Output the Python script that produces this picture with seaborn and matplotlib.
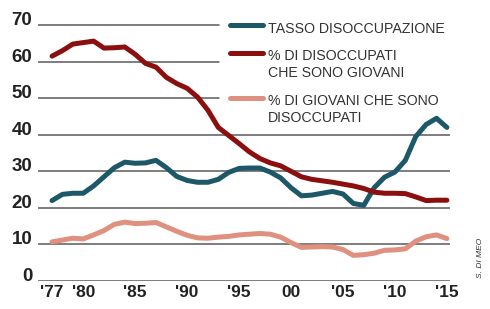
import matplotlib
matplotlib.use("Agg")
import matplotlib.pyplot as plt
import seaborn as sns
import pandas as pd
from matplotlib.lines import Line2D

# Dati
anni = list(range(1977, 2016))
tasso_disoccupazione = [22, 23.7, 24, 24, 26, 28.5, 31, 32.5, 32.2, 32.3,
                        33, 31, 28.6, 27.5, 27, 27, 27.8, 29.7, 30.8, 30.9,
                        30.9, 29.8, 28.2, 25.5, 23.3, 23.5, 24, 24.5, 23.8, 21.2,
                        20.7, 25.5, 28.4, 29.8, 33, 39.5, 42.8, 44.5, 42]
disoccupati_giovani = [61.5, 63, 64.8, 65.2, 65.6, 63.7, 63.8, 64, 62, 59.5,
                       58.5, 55.7, 54, 52.7, 50.3, 46.7, 42, 39.8, 37.6, 35.3,
                       33.5, 32.3, 31.5, 30, 28.5, 27.8, 27.4, 27, 26.5, 26,
                       25.3, 24.3, 24, 24, 23.9, 23, 22, 22.1, 22.1]
giovani_disoccupati = [10.7, 11.2, 11.7, 11.5, 12.6, 13.8, 15.5, 16.1, 15.7, 15.8,
                       16, 14.8, 13.6, 12.5, 11.8, 11.7, 12, 12.2, 12.6, 12.8,
                       13, 12.8, 12, 10.5, 9.2, 9.3, 9.4, 9.3, 8.6, 7,
                       7.2, 7.6, 8.4, 8.5, 8.8, 10.9, 12.1, 12.6, 11.6]

serie = ["TASSO DISOCCUPAZIONE",
         "% DI DISOCCUPATI\nCHE SONO GIOVANI",
         "% DI GIOVANI CHE SONO\nDISOCCUPATI"]
colori = ["#1d5868", "#8c0f0f", "#e0907f"]

tick_anni = [1977, 1980, 1985, 1990, 1995, 2000, 2005, 2010, 2015]
tick_etichette = ["'77", "'80", "'85", "'90", "'95", "00", "'05", "'10", "'15"]
y_tick = [0, 10, 20, 30, 40, 50, 60, 70]

df = pd.DataFrame({
    "anno": anni * 3,
    "valore": tasso_disoccupazione + disoccupati_giovani + giovani_disoccupati,
    "serie": [serie[0]] * len(anni) + [serie[1]] * len(anni) + [serie[2]] * len(anni),
})

sns.set_style("white")
plt.rcParams["font.family"] = ["Liberation Sans", "DejaVu Sans"]

fig = plt.figure(figsize=(4.9, 3.09), dpi=100)
ax = fig.add_axes([0.0776, 0.0906, 0.8408, 0.852])

# griglia (le linee alte si fermano prima della legenda)
for v in y_tick:
    xmax = 0.44 if v >= 50 else 1.0
    ax.axhline(v, xmin=0, xmax=xmax, color="#5a5a5a", lw=1.1, zorder=1)

sns.lineplot(data=df, x="anno", y="valore", hue="serie", hue_order=serie,
             palette=colori, linewidth=3.6, legend=False, ax=ax, zorder=3)

ax.set_xlim(1975.65, 2015.3)
ax.set_ylim(0, 72)
ax.set_xlabel("")
ax.set_ylabel("")

for s in ["top", "right", "left", "bottom"]:
    ax.spines[s].set_visible(False)

ax.set_yticks(y_tick)
ax.set_yticklabels([str(v) for v in y_tick], fontsize=13.5, fontweight="bold", color="#222222")
for t in ax.get_yticklabels():
    t.set_verticalalignment("baseline")
ax.tick_params(axis="y", length=0, pad=4)

ax.set_xticks(tick_anni)
ax.set_xticklabels(tick_etichette, fontsize=12.5, fontweight="bold", color="#222222")
ax.tick_params(axis="x", direction="in", length=7, width=1, color="#5a5a5a", pad=3)

# legenda
leg_y = [0.919, 0.828, 0.683]
txt_y = [0.930, 0.842, 0.697]
for col, lab, y, ty in zip(colori, serie, leg_y, txt_y):
    fig.add_artist(Line2D([0.47, 0.537], [y, y], color=col, lw=3.6))
    fig.text(0.547, ty, lab, fontsize=10.2, color="#333333", va="top",
             linespacing=1.3)

fig.text(0.98, 0.165, "S. DI MEO", rotation=90, fontsize=6, style="italic",
         color="#333333", ha="center", va="center")

fig.savefig("out.png", dpi=100)
